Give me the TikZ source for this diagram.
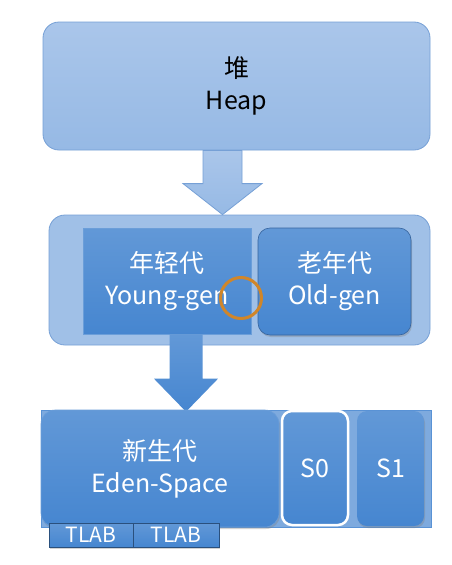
\documentclass[tikz,border=0pt]{standalone}
\usepackage{fontspec}
\setmainfont{Noto Sans CJK SC}
\usetikzlibrary{calc,shadows}
\definecolor{paleblue}{HTML}{AAC6EA}
\definecolor{paleedge}{HTML}{76A0D6}
\definecolor{midblue}{HTML}{4686D0}
\definecolor{darkedge}{HTML}{35649E}
\definecolor{ringorange}{HTML}{D0862A}

\begin{document}
\begin{tikzpicture}[x=1pt,y=-1pt,
  pale/.style={draw=paleedge,line width=0.8pt,top color=paleblue,bottom color=paleblue!80!midblue},
  deep/.style={draw=midblue!80!white,line width=0.6pt,top color=midblue!85!white,bottom color=midblue},
  txt/.style={align=center,font=\fontsize{25}{32}\selectfont},
  small/.style={font=\fontsize{21}{24}\selectfont,text=white},
  soft/.style={drop shadow={opacity=0.35,shadow xshift=1pt,shadow yshift=-2pt}}]
\useasboundingbox[fill=white] (0,0) rectangle (451,565);
% heap
\node[pale,rounded corners=16pt,minimum width=387pt,minimum height=128pt,txt] (heap) at (236.5,86) {堆\\Heap};
% heap split in two generations
\node[draw=paleedge,line width=0.8pt,fill=paleblue!90!midblue,rounded corners=16pt,
  minimum width=381pt,minimum height=130pt] (mid) at (239.5,280) {};
\node[deep,minimum width=168pt,minimum height=106pt,txt,text=white] (young) at (167,281) {年轻代\\Young-gen};
\node[deep,soft,draw=darkedge,rounded corners=12pt,minimum width=153pt,minimum height=107pt,txt,text=white] (old) at (334.5,281.5) {老年代\\Old-gen};
\node[circle,draw=ringorange,line width=3pt,minimum size=41pt] (ring) at (241,298) {};
\path[pale] let \p1=($(heap.south)+(-14,0)$), \p2=(mid.north) in
  (\x1-19.5pt,\y1) -- (\x1-19.5pt,\y2+31pt) -- (\x1-39.5pt,\y2+31pt) -- (\x1,\y2)
  -- (\x1+39.5pt,\y2+31pt) -- (\x1+19.5pt,\y2+31pt) -- (\x1+19.5pt,\y1) -- cycle;
% young generation spaces
\node[draw=midblue!90!white,line width=0.6pt,fill=midblue!70!white,minimum width=390pt,minimum height=117pt] (row) at (236,468.5) {};
\path[deep,draw=none] let \p1=($(young.south)+(19,0)$), \p2=(row.north) in
  (\x1-16.5pt,\y1) -- (\x1-16.5pt,\y2+31pt) -- (\x1-32pt,\y2+31pt) -- (\x1,\y2-2pt)
  -- (\x1+32pt,\y2+31pt) -- (\x1+16.5pt,\y2+31pt) -- (\x1+16.5pt,\y1) -- cycle;
\node[deep,soft,rounded corners=14pt,minimum width=238pt,minimum height=117pt,txt,text=white] (eden) at (160,468.5) {新生代\\Eden-Space};
\node[deep,draw=white,line width=2.5pt,rounded corners=10pt,minimum width=66pt,minimum height=114pt,txt,text=white] (s0) at (315,468) {S0};
\node[deep,soft,draw=none,rounded corners=10pt,minimum width=67pt,minimum height=115pt,txt,text=white] (s1) at (390.5,468.5) {S1};
\node[deep,soft,draw=midblue!60!black,minimum width=84pt,minimum height=24pt,small] (tlab1) at (91,535) {TLAB};
\node[deep,soft,draw=midblue!60!black,minimum width=86pt,minimum height=24pt,small] (tlab2) at (176,535) {TLAB};
\end{tikzpicture}
\end{document}
